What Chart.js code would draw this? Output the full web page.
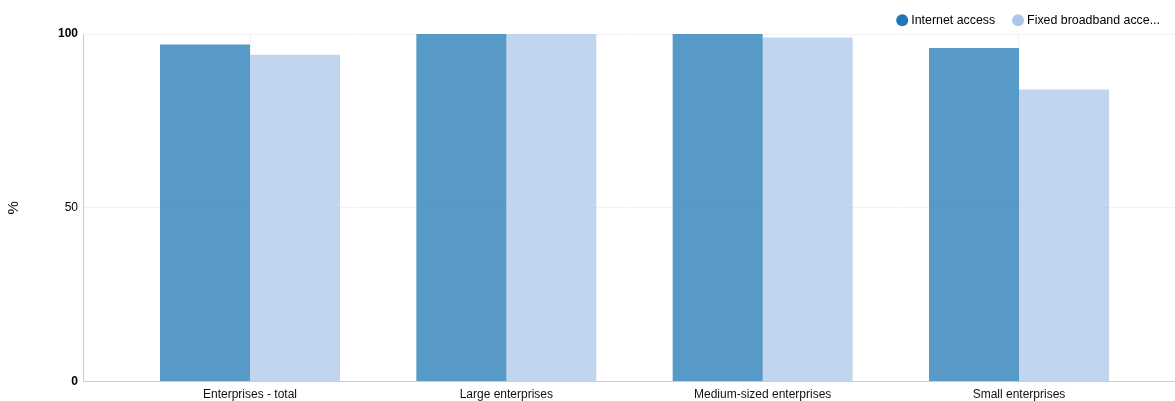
<!DOCTYPE html>
<html>
<head>
<meta charset="utf-8">
<script src="https://cdn.jsdelivr.net/npm/chart.js@4/dist/chart.umd.min.js"></script>
<style>
  html, body { margin: 0; padding: 0; background: #fff; }
  #wrap { width: 1175px; height: 401px; position: relative; }
</style>
</head>
<body>
<div id="wrap"><canvas id="chart"></canvas></div>
<script>
// Enterprise groups shown along the horizontal axis
const categories = ['Enterprises - total', 'Large enterprises', 'Medium-sized enterprises', 'Small enterprises'];
// Share of enterprises (%)
const internetAccess = [97, 100, 100, 96];
const fixedBroadband = [94, 100, 99, 84];
const seriesNames = ['Internet access', 'Fixed broadband access'];
const yTicks = [0, 50, 100];

const FONT = '"Liberation Sans", Arial, Helvetica, sans-serif';
Chart.defaults.font.family = FONT;

const toPoints = vals => vals.map((v, i) => ({ x: i, y: v }));

// Tighten the space reserved below the legend row
const legendSpacing = {
  id: 'legendSpacing',
  afterInit(chart) {
    const legend = chart.legend;
    if (!legend) return;
    const fit = legend.fit;
    legend.fit = function () {
      fit.call(this);
      this.height -= 2.4;
    };
  }
};

new Chart(document.getElementById('chart'), {
  type: 'bar',
  data: {
    datasets: [
      {
        label: seriesNames[0],
        data: toPoints(internetAccess),
        backgroundColor: 'rgba(31,119,180,0.75)',
        legendColor: '#1f77b4'
      },
      {
        label: seriesNames[1],
        data: toPoints(fixedBroadband),
        backgroundColor: 'rgba(174,199,232,0.75)',
        legendColor: '#aec7e8'
      }
    ]
  },
  plugins: [legendSpacing],
  options: {
    responsive: true,
    maintainAspectRatio: false,
    animation: false,
    layout: { padding: { top: -6, right: -5, bottom: 0, left: 0 } },
    datasets: { bar: { categoryPercentage: 0.7022, barPercentage: 1, borderWidth: 0 } },
    plugins: {
      tooltip: { enabled: false },
      legend: {
        position: 'top',
        align: 'end',
        labels: {
          usePointStyle: true,
          pointStyle: 'circle',
          boxWidth: 5.6,
          boxHeight: 8.5,
          padding: 20,
          color: '#000',
          font: { size: 12.4, family: FONT },
          generateLabels: chart => chart.data.datasets.map((ds, i) => {
            const name = ds.label.length > 20 ? ds.label.slice(0, 20) + '...' : ds.label;
            return {
              text: name,
              fillStyle: ds.legendColor,
              strokeStyle: ds.legendColor,
              lineWidth: 0,
              pointStyle: 'circle',
              hidden: false,
              datasetIndex: i
            };
          })
        }
      }
    },
    scales: {
      x: {
        type: 'linear',
        offset: false,
        bounds: 'data',
        min: -0.6515,
        max: 3.6086,
        afterBuildTicks: scale => { scale.ticks = categories.map((_, i) => ({ value: i })); },
        afterFit: scale => { scale.height = 19.5; },
        grid: { color: '#f4f4f4', drawTicks: false, offset: false },
        border: { color: '#cccccc', width: 1 },
        ticks: {
          stepSize: 1,
          padding: 6,
          color: '#111',
          font: { size: 12 },
          maxRotation: 0,
          autoSkip: false,
          callback: v => categories[v]
        }
      },
      y: {
        min: 0,
        max: 100,
        afterBuildTicks: scale => { scale.ticks = yTicks.map(v => ({ value: v })); },
        afterFit: scale => { scale.width = 83; },
        grid: { color: '#f2f2f2', drawTicks: false },
        border: { color: '#cccccc', width: 1 },
        title: {
          display: true,
          text: '%',
          color: '#000',
          font: { size: 15 },
          padding: { top: 5, bottom: 0 }
        },
        ticks: {
          padding: 5,
          color: '#000',
          font: ctx => ({ size: 12, weight: ctx.tick && ctx.tick.value === 50 ? 'normal' : 'bold' })
        }
      }
    }
  }
});
</script>
</body>
</html>
